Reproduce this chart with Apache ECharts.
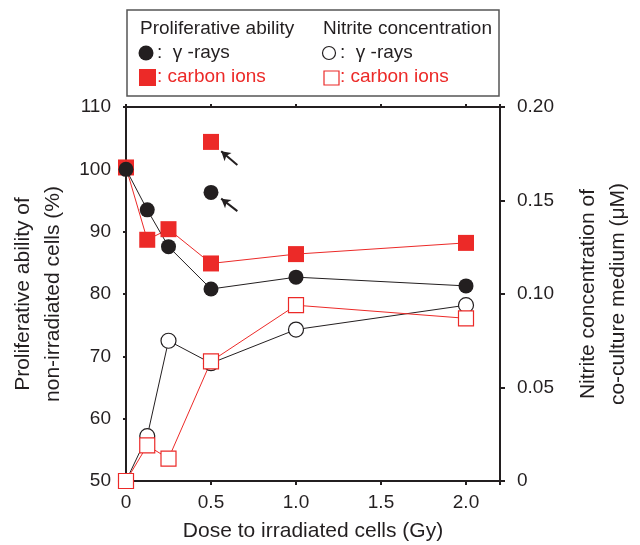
<!DOCTYPE html>
<html>
<head>
<meta charset="utf-8">
<script src="https://cdn.jsdelivr.net/npm/echarts@6/dist/echarts.min.js"></script>
<style>
  html, body { margin: 0; padding: 0; background: #fff; }
  #chart { width: 640px; height: 545px; }
</style>
</head>
<body>
<div id="chart"></div>
<script>
// dose (Gy) and the four measured curves
var doses = [0, 0.125, 0.25, 0.5, 1, 2];
var profGamma = [100, 93.5, 87.6, 80.8, 82.7, 81.3];
var profCarbon = [100.3, 88.7, 90.4, 84.9, 86.4, 88.2];
var nitGamma = [0, 0.024, 0.075, 0.063, 0.081, 0.094];
var nitCarbon = [0, 0.019, 0.012, 0.064, 0.094, 0.087];

// the two single points marked with arrows
var extraDose = 0.5;
var extraGamma = 96.3;
var extraCarbon = 104.4;
// arrows: [tail, head] in data units
var arrowCarbon = [[0.655, 100.7], [0.56, 102.9]];
var arrowGamma = [[0.655, 93.3], [0.56, 95.3]];

var leftTicks = [50, 60, 70, 80, 90, 100, 110];
var rightTicks = [0, 0.05, 0.1, 0.15, 0.2];
var xTicks = [0, 0.5, 1, 1.5, 2];

var BLACK = '#231f20';
var RED = '#ec2a28';
var FONT = '"Liberation Sans", Arial, Helvetica, sans-serif';

function pairs(xs, ys) {
    var out = [];
    for (var i = 0; i < xs.length; i++) {
        out.push([xs[i], ys[i]]);
    }
    return out;
}

function drawChart() {
    var dom = document.getElementById('chart');
    var myChart = echarts.init(dom, null, { renderer: 'canvas' });

    var tickText = { color: BLACK, fontSize: 19, fontFamily: FONT };
    var titleText = { color: BLACK, fontSize: 21, fontFamily: FONT };
    var legendFont = '19px ' + FONT;

    var option = {
        animation: false,
        backgroundColor: '#fff',
        grid: { left: 126, right: 140, top: 107, bottom: 64, containLabel: false, outerBoundsMode: 'none' },
        xAxis: [{
            type: 'value',
            min: 0, max: 2.2, interval: 0.5,
            splitLine: { show: false },
            axisLine: { onZero: false, lineStyle: { color: BLACK, width: 2 } },
            axisTick: { inside: false, length: 4, lineStyle: { color: BLACK, width: 2 } },
            axisLabel: Object.assign({
                margin: 12,
                formatter: function (v) {
                    if (xTicks.indexOf(Math.round(v * 1000) / 1000) < 0) return '';
                    return v === 0 ? '0' : v.toFixed(1);
                }
            }, tickText),
            name: 'Dose to irradiated cells (Gy)',
            nameLocation: 'middle',
            nameGap: 40,
            nameTextStyle: titleText
        }, {
            type: 'value',
            position: 'top',
            min: 0, max: 2.2, interval: 0.5,
            splitLine: { show: false },
            axisLine: { onZero: false, lineStyle: { color: BLACK, width: 2 } },
            axisTick: { inside: false, length: 3, lineStyle: { color: BLACK, width: 2 } },
            axisLabel: { show: false }
        }],
        yAxis: [{
            type: 'value',
            min: 50, max: 110, interval: 10,
            splitLine: { show: false },
            axisLine: { show: true, onZero: false, lineStyle: { color: BLACK, width: 2 } },
            axisTick: { show: true, length: 3, lineStyle: { color: BLACK, width: 2 } },
            axisLabel: Object.assign({ margin: 15 }, tickText),
            name: 'Proliferative ability of\nnon-irradiated cells (%)',
            nameLocation: 'middle',
            nameRotate: 90,
            nameGap: 52,
            nameTextStyle: Object.assign({ lineHeight: 30 }, titleText)
        }, {
            type: 'value',
            position: 'right',
            min: 0, max: 0.2, interval: 0.05,
            splitLine: { show: false },
            axisLine: { show: true, onZero: false, lineStyle: { color: BLACK, width: 2 } },
            axisTick: { show: true, length: 5, lineStyle: { color: BLACK, width: 2 } },
            axisLabel: Object.assign({
                margin: 17,
                formatter: function (v) { return v === 0 ? '0' : v.toFixed(2); }
            }, tickText),
            name: 'Nitrite concentration of\nco-culture medium (\u03bcM)',
            nameLocation: 'middle',
            nameRotate: 90,
            nameGap: 73,
            nameTextStyle: Object.assign({ lineHeight: 30 }, titleText)
        }],
        series: [{
            name: 'nitrite gamma',
            type: 'line',
            yAxisIndex: 1,
            data: pairs(doses, nitGamma),
            symbol: 'circle', symbolSize: 15,
            lineStyle: { color: BLACK, width: 1 },
            itemStyle: { color: '#fff', borderColor: BLACK, borderWidth: 1.2 }
        }, {
            name: 'nitrite carbon',
            type: 'line',
            yAxisIndex: 1,
            data: pairs(doses, nitCarbon),
            symbol: 'rect', symbolSize: 15,
            lineStyle: { color: RED, width: 1 },
            itemStyle: { color: '#fff', borderColor: RED, borderWidth: 1.2 }
        }, {
            name: 'prolif carbon',
            type: 'line',
            data: pairs(doses, profCarbon),
            symbol: 'rect', symbolSize: 16,
            lineStyle: { color: RED, width: 1 },
            itemStyle: { color: RED }
        }, {
            name: 'prolif gamma',
            type: 'line',
            data: pairs(doses, profGamma),
            symbol: 'circle', symbolSize: 15,
            lineStyle: { color: BLACK, width: 1 },
            itemStyle: { color: BLACK }
        }, {
            name: 'extra carbon',
            type: 'scatter',
            data: [[extraDose, extraCarbon]],
            symbol: 'rect', symbolSize: 16,
            itemStyle: { color: RED, opacity: 1 },
            markLine: {
                silent: true,
                symbol: ['none', 'arrow'],
                symbolSize: [8, 9],
                label: { show: false },
                lineStyle: { color: BLACK, width: 2, type: 'solid', opacity: 1 },
                data: [
                    [{ coord: arrowCarbon[0] }, { coord: arrowCarbon[1] }],
                    [{ coord: arrowGamma[0] }, { coord: arrowGamma[1] }]
                ]
            }
        }, {
            name: 'extra gamma',
            type: 'scatter',
            data: [[extraDose, extraGamma]],
            symbol: 'circle', symbolSize: 15,
            itemStyle: { color: BLACK, opacity: 1 }
        }],
        graphic: [
            { type: 'rect', shape: { x: 127, y: 10, width: 372, height: 86 },
              style: { fill: '#fff', stroke: '#555', lineWidth: 1.5 } },
            { type: 'text', x: 140, y: 29, style: { text: 'Proliferative ability', fill: BLACK, font: legendFont, verticalAlign: 'middle' } },
            { type: 'text', x: 323, y: 29, style: { text: 'Nitrite concentration', fill: BLACK, font: legendFont, verticalAlign: 'middle' } },
            { type: 'circle', shape: { cx: 146, cy: 53, r: 7.5 }, style: { fill: BLACK } },
            { type: 'text', x: 157, y: 53, style: { text: ':  \u03b3 -rays', fill: BLACK, font: legendFont, verticalAlign: 'middle' } },
            { type: 'rect', shape: { x: 139, y: 69, width: 17, height: 17 }, style: { fill: RED } },
            { type: 'text', x: 157, y: 77, style: { text: ': carbon ions', fill: RED, font: legendFont, verticalAlign: 'middle' } },
            { type: 'circle', shape: { cx: 329, cy: 53, r: 6.5 }, style: { fill: '#fff', stroke: BLACK, lineWidth: 1.2 } },
            { type: 'text', x: 340, y: 53, style: { text: ':  \u03b3 -rays', fill: BLACK, font: legendFont, verticalAlign: 'middle' } },
            { type: 'rect', shape: { x: 324, y: 71, width: 15, height: 14 }, style: { fill: '#fff', stroke: RED, lineWidth: 1.2 } },
            { type: 'text', x: 340, y: 77, style: { text: ': carbon ions', fill: RED, font: legendFont, verticalAlign: 'middle' } }
        ]
    };

    myChart.setOption(option);
    window.addEventListener('resize', myChart.resize);
}

drawChart();
</script>
</body>
</html>
